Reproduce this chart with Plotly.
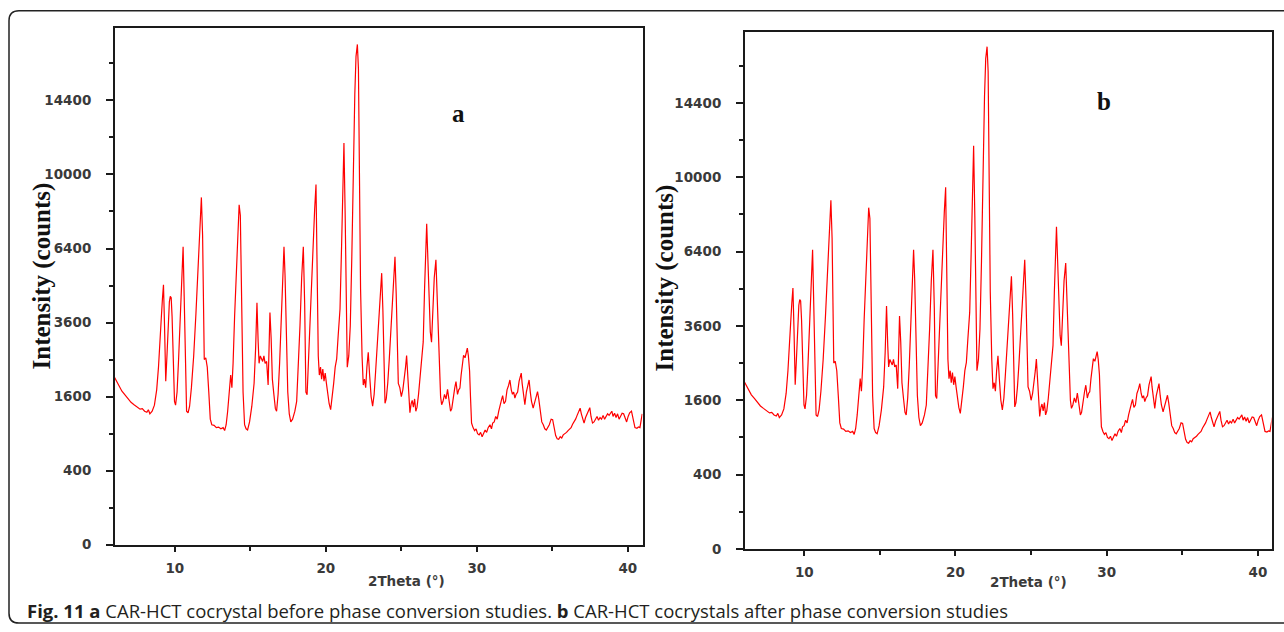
import numpy as np
import plotly.graph_objects as go

# ---------------- data ----------------
two_theta = [
    6.00, 6.15, 6.30, 6.50, 6.70, 6.90, 7.10, 7.30, 7.50, 7.70,
    7.85, 8.00, 8.15, 8.25, 8.35, 8.50, 8.65, 8.80, 8.92, 9.02,
    9.10, 9.18, 9.25, 9.32, 9.40, 9.48, 9.56, 9.64, 9.70, 9.76,
    9.82, 9.90, 9.98, 10.05, 10.15, 10.25, 10.35, 10.45, 10.55, 10.62,
    10.70, 10.78, 10.88, 10.98, 11.10, 11.25, 11.40, 11.55, 11.68, 11.76,
    11.84, 11.90, 11.95, 12.05, 12.15, 12.25, 12.35, 12.45, 12.60, 12.75,
    12.90, 13.05, 13.20, 13.30, 13.40, 13.50, 13.60, 13.70, 13.78, 13.86,
    13.96, 14.06, 14.16, 14.26, 14.34, 14.42, 14.52, 14.62, 14.72, 14.82,
    14.95, 15.10, 15.25, 15.35, 15.44, 15.52, 15.58, 15.66, 15.74, 15.82,
    15.90, 15.98, 16.08, 16.18, 16.24, 16.30, 16.38, 16.46, 16.56, 16.66,
    16.74, 16.84, 16.94, 17.04, 17.14, 17.23, 17.30, 17.38, 17.48, 17.58,
    17.68, 17.80, 17.95, 18.07, 18.18, 18.29, 18.40, 18.51, 18.60, 18.68,
    18.76, 18.86, 18.96, 19.06, 19.16, 19.26, 19.35, 19.42, 19.50, 19.57,
    19.65, 19.72, 19.80, 19.88, 19.96, 20.04, 20.12, 20.22, 20.32, 20.42,
    20.52, 20.62, 20.72, 20.82, 20.94, 21.04, 21.12, 21.20, 21.28, 21.36,
    21.42, 21.52, 21.62, 21.72, 21.82, 21.92, 22.00, 22.09, 22.16, 22.22,
    22.30, 22.40, 22.48, 22.56, 22.64, 22.72, 22.81, 22.90, 23.00, 23.10,
    23.20, 23.30, 23.42, 23.52, 23.62, 23.70, 23.78, 23.86, 23.92, 24.00,
    24.10, 24.20, 24.30, 24.40, 24.50, 24.58, 24.66, 24.74, 24.80, 24.90,
    25.00, 25.10, 25.20, 25.28, 25.35, 25.42, 25.50, 25.57, 25.65, 25.72,
    25.80, 25.88, 25.96, 26.04, 26.14, 26.24, 26.34, 26.45, 26.54, 26.62,
    26.68, 26.74, 26.82, 26.92, 27.00, 27.08, 27.18, 27.29, 27.36, 27.44,
    27.52, 27.60, 27.67, 27.76, 27.86, 27.96, 28.06, 28.16, 28.26, 28.34,
    28.44, 28.54, 28.62, 28.72, 28.80, 28.88, 28.96, 29.04, 29.12, 29.22,
    29.30, 29.37, 29.44, 29.52, 29.58, 29.65, 29.75, 29.85, 29.95, 30.05,
    30.15, 30.25, 30.35, 30.45, 30.55, 30.65, 30.75, 30.87, 30.97, 31.05,
    31.15, 31.25, 31.35, 31.45, 31.55, 31.65, 31.71, 31.80, 31.90, 32.00,
    32.10, 32.19, 32.28, 32.36, 32.44, 32.52, 32.60, 32.70, 32.80, 32.88,
    32.94, 33.00, 33.08, 33.18, 33.28, 33.38, 33.46, 33.54, 33.62, 33.73,
    33.82, 33.92, 34.02, 34.10, 34.20, 34.30, 34.40, 34.50, 34.60, 34.70,
    34.80, 34.92, 35.02, 35.12, 35.22, 35.32, 35.42, 35.52, 35.62, 35.72,
    35.84, 35.94, 36.04, 36.14, 36.24, 36.34, 36.44, 36.54, 36.64, 36.74,
    36.84, 36.92, 37.00, 37.10, 37.20, 37.30, 37.40, 37.48, 37.56, 37.66,
    37.76, 37.86, 37.96, 38.06, 38.16, 38.26, 38.36, 38.46, 38.56, 38.66,
    38.76, 38.86, 38.94, 39.02, 39.12, 39.22, 39.32, 39.42, 39.52, 39.62,
    39.72, 39.82, 39.92, 40.02, 40.12, 40.24, 40.34, 40.47, 40.60, 40.70,
    40.80, 40.95,
]

# intensity (counts) before phase conversion (panel a)
counts_a = [
    2050, 1950, 1850, 1720, 1640, 1560, 1480, 1430, 1380, 1340,
    1350, 1300, 1280, 1330, 1250, 1300, 1420, 1750, 2300, 2900,
    3700, 4400, 4930, 3500, 1950, 2600, 3700, 4300, 4500, 4450,
    3800, 2500, 1500, 1420, 1700, 2500, 3800, 5500, 6480, 4500,
    2000, 1300, 1270, 1400, 1800, 2600, 3900, 5800, 7800, 8800,
    7000, 3000, 2500, 2550, 2300, 1700, 1150, 1050, 1040, 1000,
    1010, 980, 1000, 950, 1050, 1300, 1700, 2100, 1800, 2400,
    3800, 5200, 6800, 8430, 7900, 4000, 1700, 1050, 980, 960,
    1100, 1400, 1900, 2800, 4270, 3000, 2400, 2600, 2500, 2450,
    2600, 2400, 2450, 1860, 2800, 3930, 3100, 2000, 1650, 1350,
    1300, 1650, 2400, 3600, 5400, 6480, 5300, 3000, 1700, 1250,
    1100, 1150, 1300, 1500, 2300, 3500, 5200, 6480, 4200, 1700,
    1640, 2600, 3900, 5200, 6800, 8200, 9470, 6200, 2600, 2100,
    2300, 2000, 2250, 1950, 2150, 1900, 1650, 1450, 1330, 1550,
    1900, 2300, 2520, 3200, 4050, 6400, 9300, 11770, 8000, 3500,
    2300, 2600, 3500, 6000, 10800, 14800, 17400, 18260, 16500, 10000,
    4800, 2600, 1860, 2000, 1800, 2300, 2700, 2100, 1600, 1400,
    1650, 2200, 3000, 3900, 4900, 5380, 4000, 2300, 1460, 1550,
    1900, 2500, 3300, 4300, 5400, 6050, 4600, 2800, 1900, 1800,
    1600, 1750, 2000, 2300, 2610, 2100, 1500, 1270, 1450, 1520,
    1380, 1550, 1300, 1380, 1650, 2000, 2500, 3000, 4800, 6700,
    7510, 6300, 4600, 3300, 2990, 3900, 5200, 5920, 4700, 3000,
    2000, 1600, 1430, 1500, 1650, 1550, 1760, 1500, 1300, 1350,
    1600, 1800, 1940, 1650, 1750, 1790, 2100, 2400, 2620, 2550,
    2750, 2820, 2600, 2200, 1600, 1080, 1000, 950, 980, 900,
    880, 920, 850, 900, 960, 920, 1000, 1050, 980, 1080,
    1100, 1200, 1150, 1300, 1450, 1550, 1620, 1450, 1500, 1750,
    1850, 1980, 1750, 1650, 1700, 1570, 1650, 1700, 1950, 2100,
    2150, 1900, 1650, 1430, 1700, 1900, 1980, 1700, 1500, 1360,
    1450, 1600, 1710, 1550, 1250, 1100, 1050, 980, 960, 1000,
    1050, 1150, 1140, 1000, 870, 820, 810, 850, 830, 880,
    900, 920, 950, 980, 1000, 1060, 1100, 1150, 1220, 1300,
    1360, 1250, 1150, 1080, 1180, 1250, 1330, 1370, 1200, 1080,
    1100, 1150, 1200, 1130, 1180, 1150, 1220, 1150, 1200, 1250,
    1220, 1280, 1300, 1200, 1260, 1180, 1250, 1150, 1220, 1260,
    1250, 1150, 1100, 1200, 1270, 1300, 1150, 1000, 990, 1010,
    1000, 1250,
]

# after phase conversion (panel b) - the pattern reads identical to panel a
counts_b = list(counts_a)

y_tick_labels = [0, 400, 1600, 3600, 6400, 10000, 14400]
x_tick_labels = [10, 20, 30, 40]
panel_labels = ["a", "b"]
x_title = "2Theta (°)"
y_title = "Intensity (counts)"
caption = ("<b>Fig. 11 a</b> CAR-HCT cocrystal before phase conversion studies. "
           "<b>b</b> CAR-HCT cocrystals after phase conversion studies")

# ---------------- figure ----------------
W, H = 1284, 632


def px(x):
    return x / W


def py(y):
    return 1 - y / H


fig = go.Figure()

# square-root intensity axis: plot sqrt(counts) and label ticks with counts
fig.add_trace(go.Scatter(x=two_theta, y=np.sqrt(counts_a), mode="lines",
                         line=dict(color="#ff0000", width=1.2),
                         xaxis="x", yaxis="y", showlegend=False, hoverinfo="skip"))
fig.add_trace(go.Scatter(x=two_theta, y=np.sqrt(counts_b), mode="lines",
                         line=dict(color="#ff0000", width=1.2),
                         xaxis="x2", yaxis="y2", showlegend=False, hoverinfo="skip"))

tickfont = dict(family="DejaVu Sans", size=13.5, color="#3a3a3a", weight="bold")
axis_common = dict(showline=True, linecolor="#1a1a1a", linewidth=2, mirror=True,
                   showgrid=False, zeroline=False, ticks="outside",
                   tickcolor="#1a1a1a", tickwidth=1.5, tickfont=tickfont)

xa = dict(axis_common, tickmode="array", tickvals=x_tick_labels,
          ticktext=[str(v) for v in x_tick_labels], ticklen=5, ticklabelstandoff=5,
          minor=dict(ticks="outside", tickmode="linear", tick0=5, dtick=10,
                     ticklen=4, tickwidth=1.5, tickcolor="#1a1a1a"))
ya = dict(axis_common, tickmode="array",
          tickvals=[float(np.sqrt(v)) for v in y_tick_labels],
          ticktext=[str(v) for v in y_tick_labels], ticklen=7, ticklabelstandoff=12,
          minor=dict(ticks="outside", tickmode="linear", tick0=0, dtick=10,
                     ticklen=4, tickwidth=1.5, tickcolor="#1a1a1a"))

fig.update_layout(
    width=W, height=H, margin=dict(l=0, r=0, t=0, b=0),
    paper_bgcolor="white", plot_bgcolor="white",
    xaxis=dict(xa, domain=[px(115), px(642.5)], range=[6.04, 40.97], anchor="y"),
    yaxis=dict(ya, domain=[py(551.7), py(28.7)], range=[0, 139.47], anchor="x"),
    xaxis2=dict(xa, domain=[px(745), px(1271.5)], range=[6.08, 40.9], anchor="y2"),
    yaxis2=dict(ya, domain=[py(556), py(32.3)], range=[0, 139.1], anchor="x2"),
)

ann = []
# panel letters
ann.append(dict(x=28.8, y=116.5, xref="x", yref="y", text="<b>%s</b>" % panel_labels[0],
                xanchor="center", yanchor="middle", showarrow=False,
                font=dict(family="Liberation Serif", size=25, color="#111")))
ann.append(dict(x=29.8, y=120.3, xref="x2", yref="y2", text="<b>%s</b>" % panel_labels[1],
                xanchor="center", yanchor="middle", showarrow=False,
                font=dict(family="Liberation Serif", size=25, color="#111")))
# axis titles
for xc, yc in [(42, 279), (665, 282)]:
    ann.append(dict(x=px(xc), y=py(yc), xref="paper", yref="paper", text="<b>%s</b>" % y_title,
                    textangle=-90, xanchor="center", yanchor="middle", showarrow=False,
                    font=dict(family="Liberation Serif", size=25, color="#111")))
for xc, yc in [(406, 588), (1028, 589)]:
    ann.append(dict(x=px(xc), y=py(yc), xref="paper", yref="paper", text=x_title,
                    xanchor="center", yanchor="middle", showarrow=False,
                    font=dict(family="DejaVu Sans", size=13.5, color="#3a3a3a", weight="bold")))
# caption
ann.append(dict(x=px(25), y=py(618), xref="paper", yref="paper", text=caption,
                xanchor="left", yanchor="middle", showarrow=False,
                font=dict(family="Open Sans", size=18.5, color="#231f20")))
fig.update_layout(annotations=ann)

# rounded outer frame (open to the right, cropped in the reference)
L, T, B, R, r = 9, 11, 631, 1300, 10
path = (f"M {px(R)},{py(T)} L {px(L + r)},{py(T)} Q {px(L)},{py(T)} {px(L)},{py(T + r)} "
        f"L {px(L)},{py(B - r)} Q {px(L)},{py(B)} {px(L + r)},{py(B)} L {px(R)},{py(B)}")
fig.add_shape(type="path", path=path, xref="paper", yref="paper",
              line=dict(color="#222", width=1.5), layer="above")

fig.write_html("out.html", config={"displayModeBar": False})
